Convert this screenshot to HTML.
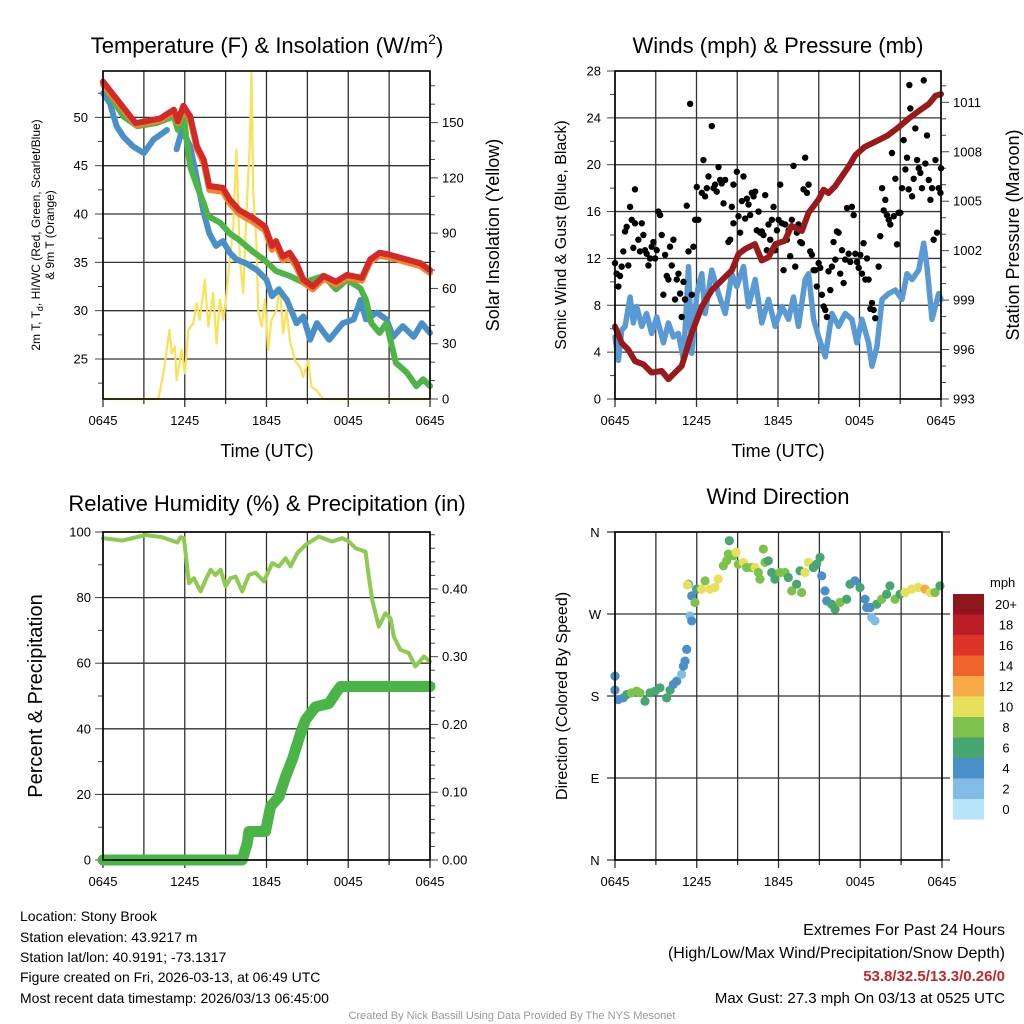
<!DOCTYPE html>
<html><head><meta charset="utf-8"><style>
html,body{margin:0;padding:0;background:#fff;}
svg{display:block;font-family:"Liberation Sans",Arial,sans-serif;}
</style></head><body>
<svg id="c" width="1024" height="1024" viewBox="0 0 1024 1024">
<text x="267" y="53" font-size="22" text-anchor="middle">Temperature (F) &amp; Insolation (W/m<tspan font-size="14" dy="-9">2</tspan><tspan dy="9">)</tspan></text>
<text x="778" y="53" font-size="22" text-anchor="middle">Winds (mph) &amp; Pressure (mb)</text>
<text x="267" y="511" font-size="22" text-anchor="middle">Relative Humidity (%) &amp; Precipitation (in)</text>
<text x="778" y="504" font-size="22" text-anchor="middle">Wind Direction</text>
<text x="267" y="457" font-size="18" text-anchor="middle">Time (UTC)</text>
<text x="778" y="457" font-size="18" text-anchor="middle">Time (UTC)</text>
<g font-size="12" text-anchor="middle">
<text transform="translate(40,235) rotate(-90)">2m T, T<tspan font-size="9" dy="3">d</tspan><tspan dy="-3">, HI/WC (Red, Green, Scarlet/Blue)</tspan></text>
<text transform="translate(54,235) rotate(-90)">&amp; 9m T (Orange)</text>
</g>
<text transform="translate(499,235) rotate(-90)" font-size="18" text-anchor="middle">Solar Insolation (Yellow)</text>
<text transform="translate(566,235) rotate(-90)" font-size="16" text-anchor="middle">Sonic Wind &amp; Gust (Blue, Black)</text>
<text transform="translate(1019,235) rotate(-90)" font-size="18" text-anchor="middle">Station Pressure (Maroon)</text>
<text transform="translate(42,696) rotate(-90)" font-size="20" text-anchor="middle">Percent &amp; Precipitation</text>
<text transform="translate(567,696) rotate(-90)" font-size="16" text-anchor="middle">Direction (Colored By Speed)</text>
<g font-size="14">
<text x="20" y="921">Location: Stony Brook</text>
<text x="20" y="942">Station elevation: 43.9217 m</text>
<text x="20" y="962">Station lat/lon: 40.9191; -73.1317</text>
<text x="20" y="982">Figure created on Fri, 2026-03-13, at 06:49 UTC</text>
<text x="20" y="1003">Most recent data timestamp: 2026/03/13 06:45:00</text>
</g>
<g text-anchor="end">
<text x="1005" y="935" font-size="16">Extremes For Past 24 Hours</text>
<text x="1005" y="958" font-size="16">(High/Low/Max Wind/Precipitation/Snow Depth)</text>
<text x="1005" y="981" font-size="15" font-weight="bold" fill="#c3272d">53.8/32.5/13.3/0.26/0</text>
<text x="1005" y="1003" font-size="15">Max Gust: 27.3 mph On 03/13 at 0525 UTC</text>
</g>
<text x="512" y="1019" font-size="11" fill="#999" text-anchor="middle">Created By Nick Bassill Using Data Provided By The NYS Mesonet</text>
</svg>
<script>
// ---------- data ----------
const xTickLabels=["0645","1245","1845","0045","0645"];
const redT=[0,2.4,4.2,5.2,5.5,5.9,6.4,6.9,7.4,7.8,8.8,9.3,10,11,11.9,12.4,12.7,13.2,13.7,14.2,14.7,15.4,16.2,17.1,17.9,19,19.6,20.3,21,22.3,23.3,24];
const redV=[53.7,49.4,49.9,50.8,49.6,51.2,50.1,47,45.6,42.9,42.7,41.5,40.4,39.6,38.7,36.7,37.2,35.6,36,34.9,33.2,32.5,33.6,33,33.7,33.4,35.3,36,35.8,35.3,34.9,34.2];
const orangeV=[53.4,49.2,49.7,50.6,49.4,51,49.8,46.7,45.2,42.5,42.3,41.1,40,39.2,38.3,36.3,36.8,35.2,35.6,34.5,32.9,32.2,33.3,32.7,33.4,33.1,35,35.7,35.5,35,34.6,33.9];
const greenT=[0,1.5,2.5,3.9,5.2,5.5,5.9,6.1,6.4,6.9,7.4,7.7,8.6,9.3,10,11,11.8,12.7,13.7,14.7,16.2,17.1,17.9,18.9,19.3,19.7,20.3,20.8,21.5,22.3,23,23.5,24];
const greenV=[53.4,50.1,49.1,49.4,50.1,48.7,50.8,48,44.9,42.9,41.1,39.8,39.1,38,37.3,36.1,35.3,34.1,33.6,32.9,33.6,32.2,33.2,32.3,31.1,28.7,27.7,28.7,24.6,23.6,22.2,22.9,22.2];
const blueT=[0,0.5,1,1.5,2.2,3,3.7,4.7,4.9,5.4,5.8,6.4,6.9,7.4,7.8,8.3,8.8,9.3,9.8,10.5,11.3,12,12.4,12.9,13.5,14.2,14.7,15.2,15.7,16.6,17.6,18.4,18.9,19.3,20.1,20.8,21.3,22,22.8,23.4,24];
const blueV=[52.5,51.5,49.1,48,47,46.3,47.7,48.7,null,46.7,48.7,47,43.6,40.1,38,36.7,37.2,36,35.3,34.9,34.2,33.2,31.5,32.2,31.1,28.7,29.4,27,28.7,27,28.7,29.1,31.1,29.1,29.8,29.1,27.3,28.4,27.3,28.7,27.7];
const solarT=[0,4.06,4.43,4.88,5.04,5.28,5.4,5.77,6.01,6.26,6.63,6.87,7.09,7.48,7.73,8.09,8.34,8.58,8.83,9.07,9.31,9.56,9.8,10.05,10.29,10.54,10.78,10.9,11.03,11.27,11.39,11.64,11.88,12.12,12.37,12.74,12.98,13.22,13.47,13.71,14.08,14.45,14.69,15.06,15.3,15.67,16.16,24];
const solarV=[0,0,13.9,37.5,24.8,28.4,10.3,26.6,13.9,37.5,41.1,51.9,42.9,64.6,39.3,57.5,30.2,53.9,42.9,57.5,75.7,93.8,135.3,75.7,57.5,102.9,138.9,177,112,82.6,48.3,39.3,53.9,26.6,42.9,48.3,61.1,35.7,48.3,32.1,21,17.4,12,21,6.5,4.7,0,0];
const pressT=[0,0.49,0.98,1.47,2.09,2.7,3.44,3.93,4.42,4.91,5.28,5.65,6.39,7.13,7.86,8.6,9.09,9.58,10.3,10.8,11.3,11.8,12.5,13,13.76,14.25,14.99,15.36,15.72,16.2,16.7,17.2,17.7,18.4,19.4,20.1,20.9,21.6,22.4,23.1,23.6,24];
const pressV=[997.4,996.4,996,995.3,995.1,994.6,994.7,994.2,994.6,995,996,997,998.6,999.6,1000.2,1000.8,1001.8,1002.1,1002.4,1001.4,1001.6,1002.4,1002.6,1003.5,1003.2,1004.3,1005.1,1005.7,1005.5,1005.9,1006.5,1007.1,1007.8,1008.3,1008.7,1009,1009.5,1010,1010.5,1010.9,1011.4,1011.5];
const windT=[0,0.25,0.49,0.74,1.11,1.35,1.6,1.97,2.33,2.7,3.07,3.56,3.93,4.3,4.67,5.04,5.41,5.65,6.02,6.39,6.63,7.13,7.62,8.11,8.6,8.97,9.46,9.83,10.32,10.81,11.3,11.79,12.29,12.78,13.14,13.51,14,14.25,14.62,14.99,15.48,15.97,16.46,16.95,17.44,17.81,18.18,18.67,18.92,19.29,19.66,20.15,20.64,21.13,21.5,21.87,22.36,22.73,22.97,23.34,23.83,24];
const windV=[5.3,3.3,5.9,6.2,8.7,6.5,7.9,6.2,7.3,5.6,7,4.8,6.5,5.3,5.6,3.3,11.3,3.9,9,10.7,7.3,11,9,7.3,10.7,9.6,11.3,7.9,10.2,6.5,8.5,6.2,7.9,6.8,8.7,6.2,10.2,10.7,6.8,5.3,3.6,7.3,6.2,7.3,6.8,4.8,6.8,4.8,2.8,4.5,8.5,9,9.3,8.5,10.7,10.2,11,13.3,11.3,6.8,9,8.5];
const gustT=[0,.12,.25,.37,.49,.61,.74,.86,.98,1.11,
1.23,1.35,1.47,1.47,1.72,1.84,1.97,2.09,2.21,2.33,
2.46,2.58,2.70,2.83,2.95,3.07,3.19,3.32,3.44,3.56,
3.69,3.81,3.93,4.05,4.18,4.30,4.42,4.55,4.67,4.79,
4.91,5.04,5.16,5.28,5.41,5.53,5.65,5.77,5.90,6.02,
6.14,6.39,6.51,6.63,6.76,6.88,7.13,7.25,7.37,7.49,
7.62,7.74,7.86,7.99,8.11,8.35,8.48,8.60,8.72,8.72,
8.97,9.09,9.21,9.34,9.46,9.58,9.71,9.83,9.95,10.07,
10.20,10.32,10.44,10.57,10.69,10.81,10.93,11.06,11.18,11.30,
11.43,11.55,11.67,11.79,11.92,12.04,12.16,12.29,12.41,12.53,
12.65,12.78,12.90,13.02,13.14,13.27,13.39,13.51,13.64,13.76,
13.88,14.0,14.13,14.25,14.37,14.50,14.62,14.74,14.86,14.99,
15.11,15.23,15.36,15.48,15.60,15.72,15.85,15.97,16.09,16.22,
16.34,16.46,16.58,16.71,16.83,16.95,17.08,17.20,17.32,17.44,
17.57,17.69,17.81,17.94,18.06,18.18,18.30,18.43,18.55,18.67,
18.80,18.92,19.04,19.16,19.41,19.53,19.66,19.78,19.90,20.02,
20.15,20.27,20.39,20.52,20.64,20.76,20.88,21.01,21.13,21.25,
21.38,21.50,21.62,21.67,21.74,21.87,21.99,22.11,22.24,22.36,
22.48,22.60,22.73,22.85,22.97,23.10,23.22,23.34,23.46,23.59,
23.71,23.83,23.96,24.0];
const gustV=[11.6,10.7,9.6,10.5,11.3,12.6,14.3,14.7,11.4,16.4,
15.3,12.9,17.9,15.0,13.6,12.6,15.0,14.0,12.7,12.4,
11.4,12.0,13.0,13.4,12.0,12.7,16.0,15.7,14.0,8.9,
12.3,10.5,10.2,13.0,11.4,13.6,8.5,10.2,10.7,9.0,
7.0,10.0,8.5,16.5,12.6,25.2,8.9,13.0,15.3,18.1,
15.3,17.6,20.4,17.3,18.0,19.0,23.3,18.0,18.3,17.7,
19.8,18.7,18.4,16.7,18.7,13.4,13.6,16.4,15.0,18.3,
19.4,15.6,14.2,16.9,19.0,15.4,17.1,16.6,15.7,17.6,
17.3,17.7,14.4,16.0,14.2,14.3,14.0,17.4,12.7,14.9,
13.6,15.3,16.4,12.7,14.4,15.3,18.3,15.0,11.0,14.9,
13.6,14.4,12.2,15.3,19.9,11.3,14.2,14.9,13.4,13.3,
17.9,20.6,17.6,18.3,12.6,12.3,11.0,11.0,9.6,11.6,
11.2,8.9,7.9,7.6,7.0,10.9,9.3,11.3,13.4,11.9,
14.3,14.2,10.7,12.7,9.9,11.9,16.3,12.4,11.7,16.4,
15.7,12.4,11.7,11.2,12.3,10.7,13.3,10.2,12.0,10.2,
7.7,8.2,7.6,6.9,11.3,13.9,18.0,16.1,17.0,15.7,
15.3,14.9,21.0,15.6,18.8,13.2,15.9,15.9,18.0,22.1,
19.6,20.6,17.9,26.8,24.8,17.3,18.8,23.1,20.4,19.7,
19.3,18.0,27.2,20.1,22.5,18.7,17.0,18.0,13.6,20.4,
14.2,18.0,17.6,19.7];
const rhT=[0,1.42,3.13,4.35,5.45,5.7,5.94,6.31,6.67,7.16,7.53,7.9,8.26,8.63,9,9.36,9.73,10.22,10.71,11.2,11.81,12.42,12.91,13.4,13.77,14.25,14.87,15.84,16.82,17.56,18.04,18.53,19.27,19.51,19.76,20.24,20.73,21.1,21.34,21.83,22.44,22.93,23.55,24];
const rhV=[98.1,97.4,99.1,98.4,96.8,98.4,98.1,84.4,85.9,81.9,85.4,88.5,86.9,88.5,83.4,85.9,86.4,81.9,86.9,87.6,84.9,90.5,89.5,92,89.5,93.5,96.1,98.6,97.1,98.1,97.1,95.1,94,86.4,79.3,71.2,75.2,73.7,68.1,64.1,63.1,59,62,60.5];
const precipT=[0,10.22,10.59,10.71,11.93,12.3,12.91,13.4,13.89,14.5,14.87,15.6,16.58,17.07,17.43,24];
const precipV=[0,0,0.025,0.042,0.042,0.079,0.093,0.123,0.148,0.187,0.207,0.226,0.231,0.246,0.256,0.256];
const dirT=[0,0,0.24,0.61,0.86,1.22,1.59,1.83,2.2,2.57,2.94,3.3,3.79,4.04,4.28,4.53,4.89,5.02,5.14,5.26,5.5,5.63,5.38,5.31,5.63,5.87,5.99,6.36,6.61,6.97,7.34,7.58,7.95,8.2,8.32,8.39,8.69,8.88,9.05,9.42,9.66,10.03,10.28,10.52,10.64,10.89,11.01,11.25,11.5,11.74,12.11,12.48,12.72,12.97,13.33,13.7,13.58,13.94,14.19,14.56,14.8,15.05,15.17,15.41,15.54,15.9,16.15,16.51,17,17.25,17.61,17.98,18.35,18.47,18.72,18.84,19.08,19.21,19.57,19.94,20.18,20.55,20.92,21.28,21.77,22.26,22.75,23.12,23.49,23.85];
const dirV=[201.8,186.4,176.1,178,181.6,183.5,185.3,183.5,174.3,183.5,185.3,189,178,186.4,192.7,196.3,203.7,212.8,218.3,231.2,267.9,262.4,302.7,302,289.9,282.6,297.3,297.3,306.4,297.3,299.1,308.3,322.9,328.4,335.8,350.4,333.9,337.6,324.8,326.6,321.1,321.1,321.1,315.6,308.3,341.3,326.6,328.4,315.6,308.3,315.6,315.6,310.1,295.4,302.7,293.6,317.4,315.6,326.6,321.1,324.8,332.1,311.9,295.4,284.4,280.7,275.2,282.6,286.2,302.7,306.4,299.1,286.2,277.1,277.1,266.1,262.4,280.7,286.2,291.7,300.9,286.2,291.7,293.6,297.3,299.1,297.3,293.6,293.6,300.9];
const dirSpd=[4,4,4,4,6,8,8,8,6,6,6,6,6,6,4,4,2,4,4,4,2,4,4,10,4,8,6,10,8,10,10,10,8,8,8,6,8,10,8,10,8,8,10,8,8,8,8,6,6,6,8,8,6,8,6,8,6,10,10,6,6,6,4,4,4,6,6,8,6,6,4,6,4,4,4,2,2,6,8,6,6,8,6,10,10,10,12,10,8,6];
const spdLabels=["20+","18","16","14","12","10","8","6","4","2","0"];
const spdColors=["#8f161c","#bb1d27","#dd3429","#f0632b","#f7aa45","#e6e05a","#7cc24b","#47a672","#4a8fc7","#80bce6","#b8e4f8"];

// ---------- helpers ----------
const NS="http://www.w3.org/2000/svg";
const svg=document.getElementById('c');
function mk(tag,attrs,parent){const e=document.createElementNS(NS,tag);for(const k in attrs)e.setAttribute(k,attrs[k]);(parent||svg).appendChild(e);return e;}
function scale(d0,d1,r0,r1){return v=>r0+(v-d0)/(d1-d0)*(r1-r0);}

function panel(name,L,R,T,B){
  const g=mk('g',{});
  
  
  const xs=scale(0,24,L,R);
  for(let h=0;h<=24;h+=3){const x=xs(h);mk('line',{x1:x,x2:x,y1:T,y2:B+(h%6===0?8:5),stroke:'#333','stroke-width':1.3},g);}
  xTickLabels.forEach((lab,i)=>{const t=mk('text',{x:xs(i*6),y:B+26,'font-size':13,'text-anchor':'middle'},g);t.textContent=lab;});
  return {g,xs,L,R,T,B};
}
function yAxis(p,d0,d1,major,minor,side,fmt,grid,off){
  const ys=scale(d0,d1,p.B,p.T);
  const g=mk('g',{},p.g);
  
  
  const x=side==='left'?p.L:p.R, dir=side==='left'?-1:1;
  const lo=Math.ceil(d0/minor-1e-6)*minor;
  const o=off||12;
  for(let v=lo;v<=d1+1e-6;v+=minor){const y=ys(v);const isMaj=Math.abs(v/major-Math.round(v/major))<1e-6;
    mk('line',{x1:x,x2:x+dir*(isMaj?8:5),y1:y,y2:y,stroke:'#444','stroke-width':1},g);
    if(isMaj){ if(grid) mk('line',{x1:p.L,x2:p.R,y1:y,y2:y,stroke:'#333','stroke-width':1.3},g);
      const t=mk('text',{x:x+dir*o,y:y+4.5,'font-size':13,'text-anchor':side==='left'?'end':'start'},g);t.textContent=fmt(v);}
  }
  return ys;
}
function frame(p){mk('rect',{x:p.L,y:p.T,width:p.R-p.L,height:p.B-p.T,fill:'none',stroke:'#000','stroke-width':1.6},svg);}
function line(p,ys,T,V,color,w,name){
  const g=mk('g',{});
  
  
  let d='',pen=false;
  T.forEach((t,i)=>{const v=V[i];if(v===null||v===undefined){pen=false;return;}d+=(pen?'L':'M')+p.xs(t).toFixed(1)+','+ys(v).toFixed(1);pen=true;});
  mk('path',{d,fill:'none',stroke:color,'stroke-width':w,'stroke-linejoin':'round','stroke-linecap':'round'},g);
}

// ---------- panel 1: temperature ----------
const p1=panel('temperature',103,430,71,399);
const yT=yAxis(p1,20.86,54.8,5,2.5,'left',v=>v,true,15);
const yS=yAxis(p1,0,178,30,10,'right',v=>v,false);
line(p1,yS,solarT,solarV,'#fbe158',2.2,'solar-line');
line(p1,yT,blueT,blueV,'#4a90c8',6,'dewpoint-line');
line(p1,yT,greenT,greenV,'#4db548',6,'heat-index-line');
line(p1,yT,redT,orangeV,'#f2842f',6,'9m-temp-line');
line(p1,yT,redT,redV,'#d42a27',6,'2m-temp-line');
frame(p1);

// ---------- panel 2: winds & pressure ----------
const p2=panel('winds',615,941,71,399);
const yW=yAxis(p2,0,28,4,2,'left',v=>v,true,14);
const yP=yAxis(p2,993,1012.9,3,1,'right',v=>v,false);
line(p2,yW,windT,windV,'#5a9ad4',5.5,'wind-speed-line');
{const g=mk('g',{});
 
 
 gustT.forEach((t,i)=>{const c=mk('circle',{cx:p2.xs(t),cy:yW(gustV[i]),r:3.2,fill:'#000'},g);
  
  });}
line(p2,yP,pressT,pressV,'#9a1a1b',6,'pressure-line');
frame(p2);

// ---------- panel 3: RH & precip ----------
const p3=panel('humidity',103,430,532,860);
const yR=yAxis(p3,0,100,20,10,'left',v=>v,true);
const yQ=yAxis(p3,0,0.484,0.1,0.02,'right',v=>v.toFixed(2),false);
line(p3,yQ,precipT,precipV,'#4bb447',11,'precip-line');
line(p3,yR,rhT,rhV,'#8fca50',4,'rh-line');
frame(p3);

// ---------- panel 4: wind direction ----------
const p4=panel('direction',615,942,532,860);
const dirLabels=["N","E","S","W","N"];
const yD=scale(0,360,p4.B,p4.T);
{const g=mk('g',{},p4.g);
 
 
 dirLabels.forEach((lab,i)=>{const y=yD(i*90);mk('line',{x1:p4.L-8,x2:p4.R+8,y1:y,y2:y,stroke:'#333','stroke-width':1.3},g);
  const t=mk('text',{x:p4.L-20,y:y+5,'font-size':13,'text-anchor':'middle'},g);t.textContent=lab;});}
{const g=mk('g',{});
 
 
 dirT.forEach((t,i)=>{const idx=10-Math.min(10,Math.round(dirSpd[i]/2));
  const c=mk('circle',{cx:p4.xs(t),cy:yD(dirV[i]),r:4.6,fill:spdColors[idx]},g);
  
  });}
frame(p4);

// colorbar
{const g=mk('g',{});
 
 
 const t0=mk('text',{x:990,y:587,'font-size':13},g);t0.textContent='mph';
 spdLabels.forEach((lab,i)=>{const y=594+i*20.5;
  const r=mk('rect',{x:953,y:y,width:31,height:20.6,fill:spdColors[i]},g);
  
  
  const t=mk('text',{x:1006,y:y+15,'font-size':13,'text-anchor':'middle'},g);t.textContent=lab;});}
</script>
</body></html>
